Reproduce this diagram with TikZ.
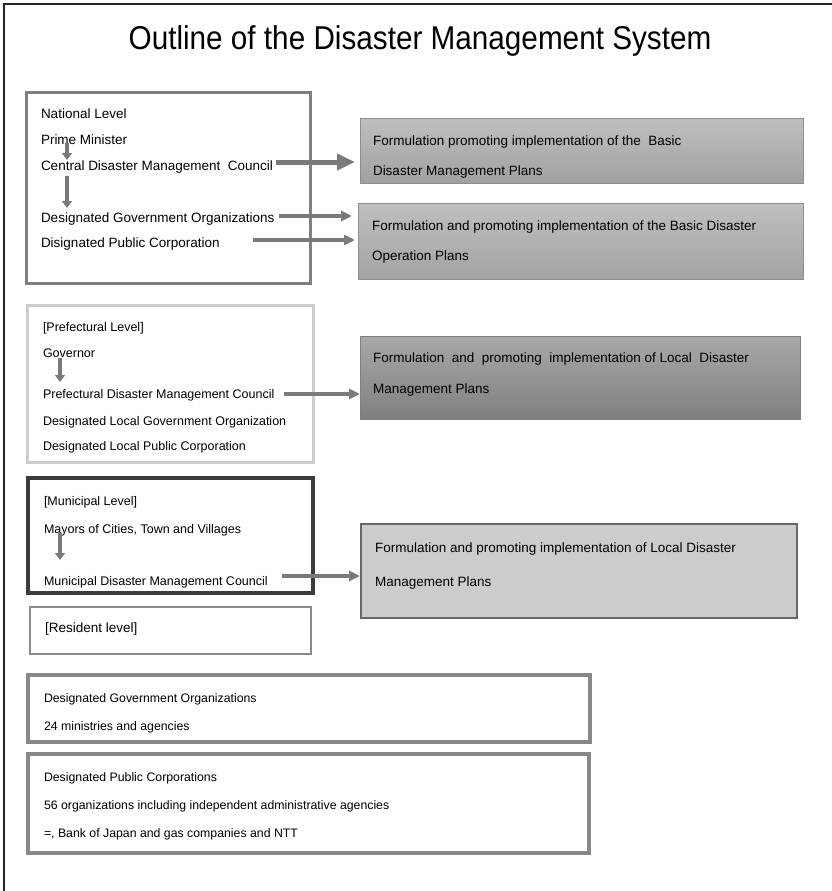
\documentclass[tikz,border=0pt]{standalone}
\usepackage{fontspec}
\setmainfont{Liberation Sans}
\usetikzlibrary{arrows.meta,calc}
\definecolor{arr}{HTML}{7A7A7A}
\definecolor{natb}{HTML}{808080}
\definecolor{prefb}{HTML}{CDCDCD}
\definecolor{munb}{HTML}{3C3C3C}
\definecolor{resb}{HTML}{8A8A8A}
\definecolor{botb}{HTML}{888888}
\definecolor{pb}{HTML}{8E8E8E}
\begin{document}
\begin{tikzpicture}[x=1pt,y=-1pt,
  t/.style={inner sep=0pt,outer sep=0pt,anchor=base west,font=\fontsize{13.5}{16}\selectfont},
  ts/.style={inner sep=0pt,outer sep=0pt,anchor=base west,font=\fontsize{12.5}{15}\selectfont},
  tb/.style={inner sep=0pt,outer sep=0pt,anchor=base west,font=\fontsize{12.3}{15}\selectfont},
  frame/.style={anchor=north west,inner sep=0pt,outer sep=0pt,rectangle},
  varrow/.style={draw=arr,line width=3.5pt,-{Triangle[length=7pt,width=10pt]}},
  harrow/.style={draw=arr,line width=3.5pt,-{Triangle[length=11pt,width=10pt]}},
  bigarrow/.style={draw=arr,line width=5pt,-{Triangle[length=18pt,width=16pt]}}
]
\useasboundingbox (0,0) rectangle (832,891);
\fill[white] (0,0) rectangle (832,891);
% outer frame (left and top)
\draw[line width=2.5pt,black!85] (4,891) -- (4,4) -- (832,4);

% title
\node[inner sep=0pt,anchor=base] (title) at (420,50)
  {\scalebox{0.9}[1]{\fontsize{33}{37}\selectfont Outline of the Disaster Management System}};

% ---------- National level
\node[frame,draw=natb,line width=3pt,minimum width=284pt,minimum height=191pt] (nat) at (26,92) {};
\node[t] (nl)   at (41,118) {National Level};
\node[t] (pm)   at (41,144) {Prime Minister};
\node[t] (cdmc) at (41,170) {Central Disaster Management\ \ Council};
\node[t] (dgo)  at (41,222) {Designated Government Organizations};
\node[t] (dpc)  at (41,247) {Disignated Public Corporation};

\node[frame,draw=pb,line width=1pt,top color=black!25,bottom color=black!37,
  minimum width=443pt,minimum height=65pt] (b1) at (360,118) {};
\node[t] (b1a) at (373,145) {Formulation promoting implementation of the\ \ Basic};
\node[t] (b1b) at (373,175) {Disaster Management Plans};

\node[frame,draw=pb,line width=1pt,top color=black!25,bottom color=black!36,
  minimum width=445pt,minimum height=76pt] (b2) at (358,203) {};
\node[t] (b2a) at (372,230) {Formulation and promoting implementation of the Basic Disaster};
\node[t] (b2b) at (372,260) {Operation Plans};

\draw[varrow] ([xshift=26pt,yshift=1pt]pm.base west) -- ([xshift=26pt,yshift=10pt]cdmc.base west);
\draw[varrow] ([xshift=26pt,yshift=-6pt]cdmc.base west) -- ([xshift=26pt,yshift=14pt]dgo.base west);

\coordinate (a1) at ([xshift=3pt,yshift=8pt]cdmc.base east);
\draw[bigarrow,shorten >=5pt] (a1) -- (a1 -| b1.west);
\coordinate (a2) at ([xshift=5pt,yshift=6pt]dgo.base east);
\draw[harrow,shorten >=6pt] (a2) -- (a2 -| b2.west);
\coordinate (a3) at ([xshift=33pt,yshift=7pt]dpc.base east);
\draw[harrow,shorten >=3pt] (a3) -- (a3 -| b2.west);

% ---------- Prefectural level
\node[frame,draw=prefb,line width=3pt,minimum width=286pt,minimum height=157pt] (pref) at (27,305) {};
\node[ts] (pl)   at (43,331) {[Prefectural Level]};
\node[ts] (gov)  at (43,357) {Governor};
\node[ts] (pdmc) at (43,398) {Prefectural Disaster Management Council};
\node[ts] (dlgo) at (43,425) {Designated Local Government Organization};
\node[ts] (dlpc) at (43,450) {Designated Local Public Corporation};

\node[frame,draw=black!50,line width=1pt,top color=black!34,bottom color=black!50,
  minimum width=440pt,minimum height=83pt] (b3) at (360,336) {};
\node[t] (b3a) at (373,362) {Formulation\ \ and\ \ promoting\ \ implementation of Local\ \ Disaster};
\node[t] (b3b) at (373,393) {Management Plans};

\draw[varrow] ([xshift=17pt,yshift=-1pt]gov.base west) -- ([xshift=17pt,yshift=16pt]pdmc.base west);
\coordinate (a4) at ([xshift=10pt,yshift=4pt]pdmc.base east);
\draw[harrow] (a4) -- (a4 -| b3.west);

% ---------- Municipal level
\node[frame,draw=munb,line width=3.5pt,minimum width=285pt,minimum height=115pt] (mun) at (28,478) {};
\node[ts] (ml)   at (44,505) {[Municipal Level]};
\node[ts] (may)  at (44,533) {Mayors of Cities, Town and Villages};
\node[ts] (mdmc) at (44,585) {Municipal Disaster Management Council};

\node[frame,draw=black!60,line width=1.2pt,fill=black!20,
  minimum width=436pt,minimum height=94pt] (b4) at (361,524) {};
\node[t] (b4a) at (375,552) {Formulation and promoting implementation of Local Disaster};
\node[t] (b4b) at (375,586) {Management Plans};

\draw[varrow] ([xshift=16pt,yshift=0pt]may.base west) -- ([xshift=16pt,yshift=25pt]mdmc.base west);
\coordinate (a5) at ([xshift=14pt,yshift=9pt]mdmc.base east);
\draw[harrow,shorten >=1pt] (a5) -- (a5 -| b4.west);

% ---------- Resident level
\node[frame,draw=resb,line width=2pt,minimum width=281pt,minimum height=47pt] (res) at (30,607) {};
\node[t] (rl) at (45,632) {[Resident level]};

% ---------- Bottom boxes
\node[frame,draw=botb,line width=3.5pt,minimum width=562pt,minimum height=67pt] (bxa) at (28,675) {};
\node[tb] (bxa1) at (44,702) {Designated Government Organizations};
\node[tb] (bxa2) at (44,730) {24 ministries and agencies};

\node[frame,draw=botb,line width=3.5pt,minimum width=561pt,minimum height=99pt] (bxb) at (28,754) {};
\node[tb] (bxb1) at (44,781) {Designated Public Corporations};
\node[tb] (bxb2) at (44,809) {56 organizations including independent administrative agencies};
\node[tb] (bxb3) at (44,837) {=, Bank of Japan and gas companies and NTT};
\end{tikzpicture}
\end{document}
